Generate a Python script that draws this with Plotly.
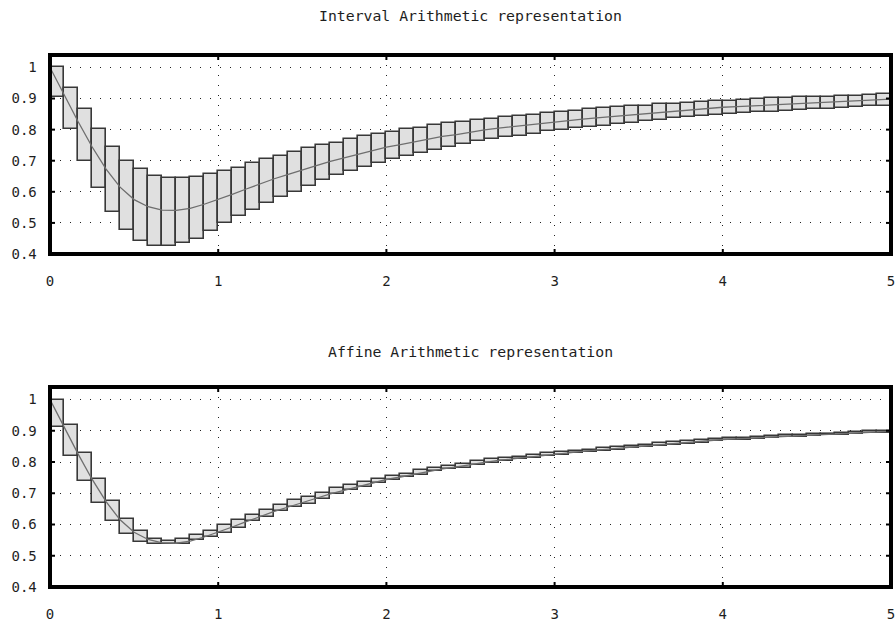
import numpy as np
import plotly.graph_objects as go

# ---------------- data ----------------
x_start, x_end, n_boxes = 0.0, 5.0, 60
y_min, y_max = 0.4, 1.04

curve = [1.000, 0.913, 0.826, 0.745, 0.673, 0.615, 0.575, 0.552, 0.541, 0.540,
         0.547, 0.560, 0.575, 0.592, 0.609, 0.626, 0.642, 0.656, 0.669, 0.684,
         0.698, 0.710, 0.721, 0.733, 0.744, 0.752, 0.761, 0.771, 0.778, 0.784,
         0.792, 0.799, 0.805, 0.810, 0.815, 0.821, 0.826, 0.830, 0.834, 0.838,
         0.842, 0.846, 0.850, 0.854, 0.858, 0.861, 0.864, 0.868, 0.872, 0.874,
         0.876, 0.879, 0.881, 0.883, 0.885, 0.887, 0.889, 0.892, 0.894, 0.896,
         0.898]

ia_hi = [1.000, 0.933, 0.866, 0.801, 0.743, 0.700, 0.674, 0.652, 0.644, 0.644,
         0.649, 0.658, 0.667, 0.678, 0.692, 0.706, 0.714, 0.729, 0.740, 0.749,
         0.758, 0.769, 0.778, 0.787, 0.793, 0.801, 0.806, 0.815, 0.820, 0.826,
         0.831, 0.834, 0.840, 0.844, 0.847, 0.852, 0.858, 0.861, 0.866, 0.868,
         0.872, 0.877, 0.877, 0.881, 0.882, 0.887, 0.889, 0.893, 0.893, 0.895,
         0.897, 0.901, 0.901, 0.904, 0.906, 0.906, 0.909, 0.909, 0.911, 0.913]
ia_lo = [0.906, 0.801, 0.700, 0.612, 0.535, 0.478, 0.441, 0.427, 0.427, 0.437,
         0.449, 0.475, 0.500, 0.523, 0.540, 0.564, 0.583, 0.601, 0.620, 0.638,
         0.655, 0.667, 0.681, 0.692, 0.706, 0.716, 0.724, 0.735, 0.743, 0.753,
         0.764, 0.770, 0.775, 0.781, 0.786, 0.794, 0.799, 0.805, 0.810, 0.813,
         0.818, 0.822, 0.828, 0.831, 0.836, 0.840, 0.844, 0.847, 0.850, 0.852,
         0.856, 0.858, 0.861, 0.863, 0.865, 0.866, 0.871, 0.872, 0.876, 0.877]

aa_hi = [1.000, 0.920, 0.830, 0.745, 0.674, 0.617, 0.580, 0.553, 0.548, 0.553,
         0.566, 0.580, 0.598, 0.614, 0.632, 0.646, 0.662, 0.678, 0.688, 0.702,
         0.717, 0.726, 0.736, 0.747, 0.756, 0.763, 0.774, 0.782, 0.788, 0.793,
         0.804, 0.809, 0.813, 0.816, 0.824, 0.830, 0.832, 0.836, 0.840, 0.844,
         0.848, 0.852, 0.856, 0.860, 0.863, 0.866, 0.870, 0.874, 0.876, 0.878,
         0.881, 0.883, 0.885, 0.887, 0.889, 0.891, 0.894, 0.896, 0.898, 0.900]
aa_lo = [0.912, 0.820, 0.740, 0.669, 0.612, 0.571, 0.544, 0.537, 0.537, 0.539,
         0.550, 0.560, 0.574, 0.590, 0.610, 0.624, 0.642, 0.656, 0.667, 0.683,
         0.699, 0.710, 0.720, 0.733, 0.744, 0.752, 0.760, 0.771, 0.777, 0.782,
         0.792, 0.798, 0.804, 0.809, 0.814, 0.820, 0.824, 0.829, 0.832, 0.836,
         0.840, 0.844, 0.848, 0.852, 0.856, 0.859, 0.862, 0.866, 0.870, 0.872,
         0.874, 0.877, 0.879, 0.881, 0.883, 0.885, 0.887, 0.890, 0.892, 0.894]

x_ticks = [0, 1, 2, 3, 4, 5]
x_tick_labels = ["0", "1", "2", "3", "4", "5"]
y_ticks = [0.4, 0.5, 0.6, 0.7, 0.8, 0.9, 1.0]
y_tick_labels = ["0.4", "0.5", "0.6", "0.7", "0.8", "0.9", "1"]
titles = ["Interval Arithmetic representation", "Affine Arithmetic representation"]

assert len(curve) == n_boxes + 1
for arr in (ia_hi, ia_lo, aa_hi, aa_lo):
    assert len(arr) == n_boxes

edges = np.linspace(x_start, x_end, n_boxes + 1)
centers = (edges[:-1] + edges[1:]) / 2
bw = (x_end - x_start) / n_boxes

# ---------------- layout geometry ----------------
W, H = 896, 622
PX_L, PX_R = 50, 891
xdom = [PX_L / W, PX_R / W]
ydom1 = [1 - 254 / H, 1 - 55 / H]
ydom2 = [1 - 587 / H, 1 - 387 / H]
TICK_PX = 5
dx_tick = (x_end - x_start) * TICK_PX / (PX_R - PX_L)
dy_tick = (y_max - y_min) * TICK_PX / 199.0

# ---------------- figure ----------------
FONT = "DejaVu Sans Mono"
TXT = "#1e1e1e"
fig = go.Figure()

panels = [(ia_lo, ia_hi, "x", "y"), (aa_lo, aa_hi, "x2", "y2")]
for lo, hi, xa, ya in panels:
    lo_a = np.array(lo)
    hi_a = np.array(hi)
    fig.add_trace(go.Bar(
        x=centers, y=hi_a - lo_a, base=lo_a, width=bw,
        marker=dict(color="#e0e0e0", line=dict(color="#383838", width=1.6)),
        xaxis=xa, yaxis=ya, showlegend=False, hoverinfo="skip"))
    fig.add_trace(go.Scatter(
        x=edges, y=curve, mode="lines",
        line=dict(color="#6e6e6e", width=1.3),
        xaxis=xa, yaxis=ya, showlegend=False, hoverinfo="skip"))

    # frame drawn as a line trace along the axis ranges
    fig.add_trace(go.Scatter(
        x=[x_start, x_end, x_end, x_start, x_start],
        y=[y_min, y_min, y_max, y_max, y_min],
        mode="lines", line=dict(color="#000000", width=4),
        xaxis=xa, yaxis=ya, showlegend=False, hoverinfo="skip"))

    # inside tick marks on all four sides
    tx, ty = [], []
    for v in x_ticks[1:-1]:
        tx += [v, v, None, v, v, None]
        ty += [y_min, y_min + dy_tick, None, y_max - dy_tick, y_max, None]
    for v in y_ticks[1:-1]:
        tx += [x_start, x_start + dx_tick, None, x_end - dx_tick, x_end, None]
        ty += [v, v, None, v, v, None]
    fig.add_trace(go.Scatter(
        x=tx, y=ty, mode="lines", line=dict(color="#000000", width=2),
        xaxis=xa, yaxis=ya, showlegend=False, hoverinfo="skip"))

axis_common = dict(
    showline=True, linecolor="#000000", linewidth=2, mirror="allticks",
    ticks="", showgrid=True, gridcolor="#222222", gridwidth=1,
    griddash="1px,9px", zeroline=False, automargin=False,
    ticklabeloverflow="allow",
)

xaxis_cfg = dict(axis_common, range=[x_start, x_end], domain=xdom,
                 tickmode="array", tickvals=x_ticks,
                 tickfont=dict(family=FONT, size=12, color=TXT),
                 ticktext=["<br><span style='font-size:14px'>" + t + "</span>"
                           for t in x_tick_labels])
yaxis_cfg = dict(axis_common, range=[y_min, y_max],
                 tickmode="array", tickvals=y_ticks,
                 tickfont=dict(family=FONT, size=14, color=TXT),
                 ticktext=[t + "\u00a0" for t in y_tick_labels])

fig.update_layout(
    width=W, height=H,
    margin=dict(l=0, r=0, t=0, b=0),
    paper_bgcolor="white", plot_bgcolor="white",
    barmode="overlay", bargap=0, hovermode=False,
    xaxis=dict(xaxis_cfg, anchor="y"),
    yaxis=dict(yaxis_cfg, domain=ydom1, anchor="x"),
    xaxis2=dict(xaxis_cfg, anchor="y2"),
    yaxis2=dict(yaxis_cfg, domain=ydom2, anchor="x2"),
    annotations=[
        dict(text=titles[0], x=0.5 * (xdom[0] + xdom[1]), y=1 - 16 / H,
             xref="paper", yref="paper", showarrow=False,
             font=dict(family=FONT, size=14.8, color=TXT),
             xanchor="center", yanchor="middle"),
        dict(text=titles[1], x=0.5 * (xdom[0] + xdom[1]), y=1 - 351 / H,
             xref="paper", yref="paper", showarrow=False,
             font=dict(family=FONT, size=14.8, color=TXT),
             xanchor="center", yanchor="middle"),
    ],
)

fig.write_html(
    "out.html",
    config={"displayModeBar": False},
    post_script="document.body.style.margin='0';document.body.style.overflow='hidden';",
)
